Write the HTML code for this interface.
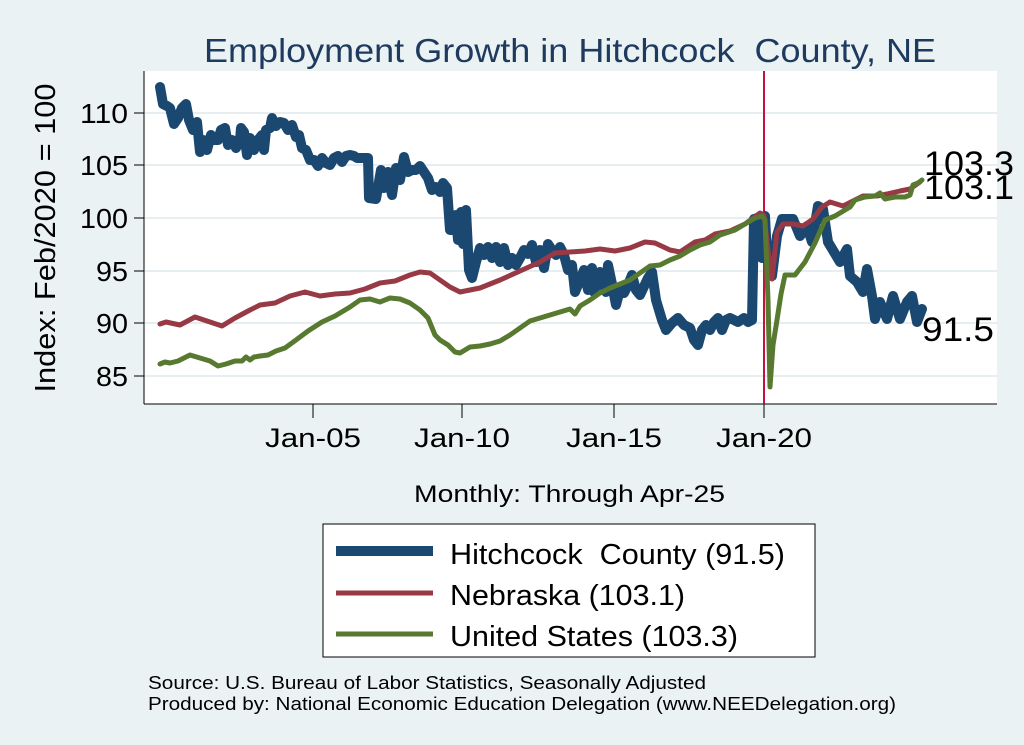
<!DOCTYPE html>
<html><head><meta charset="utf-8"><style>
body{margin:0;background:#eaf2f3;}
svg{display:block;font-family:"Liberation Sans",sans-serif;}
</style></head><body>
<svg width="1024" height="745" viewBox="0 0 1024 745">
<rect width="1024" height="745" fill="#eaf2f3"/>
<rect x="144" y="71" width="853" height="333" fill="#fff"/>
<g stroke="#e6eef1" stroke-width="2">
<line x1="144" x2="997" y1="113" y2="113"/><line x1="144" x2="997" y1="165" y2="165"/>
<line x1="144" x2="997" y1="218" y2="218"/><line x1="144" x2="997" y1="271" y2="271"/>
<line x1="144" x2="997" y1="323" y2="323"/><line x1="144" x2="997" y1="376" y2="376"/>
</g>
<g stroke="#000" stroke-width="1">
<line x1="144" y1="71" x2="144" y2="404"/><line x1="144" y1="404" x2="997" y2="404"/>
<line x1="134" x2="144" y1="113" y2="113"/><line x1="134" x2="144" y1="165" y2="165"/>
<line x1="134" x2="144" y1="218" y2="218"/><line x1="134" x2="144" y1="271" y2="271"/>
<line x1="134" x2="144" y1="323" y2="323"/><line x1="134" x2="144" y1="376" y2="376"/>
<line x1="313" x2="313" y1="404" y2="418"/><line x1="462" x2="462" y1="404" y2="418"/>
<line x1="614" x2="614" y1="404" y2="418"/><line x1="764" x2="764" y1="404" y2="418"/>
</g>
<g font-size="28" text-anchor="end" fill="#000">
<text x="128" y="123" textLength="48" lengthAdjust="spacingAndGlyphs">110</text>
<text x="128" y="175" textLength="48" lengthAdjust="spacingAndGlyphs">105</text>
<text x="128" y="228" textLength="48" lengthAdjust="spacingAndGlyphs">100</text>
<text x="128" y="281" textLength="32" lengthAdjust="spacingAndGlyphs">95</text>
<text x="128" y="333" textLength="32" lengthAdjust="spacingAndGlyphs">90</text>
<text x="128" y="386" textLength="32" lengthAdjust="spacingAndGlyphs">85</text>
</g>
<g font-size="27" text-anchor="middle">
<text x="313" y="447" textLength="96" lengthAdjust="spacingAndGlyphs">Jan-05</text>
<text x="462" y="447" textLength="96" lengthAdjust="spacingAndGlyphs">Jan-10</text>
<text x="614" y="447" textLength="96" lengthAdjust="spacingAndGlyphs">Jan-15</text>
<text x="764" y="447" textLength="96" lengthAdjust="spacingAndGlyphs">Jan-20</text>
</g>
<text x="204" y="62" font-size="33" fill="#1e3a5f" textLength="732" lengthAdjust="spacingAndGlyphs">Employment Growth in Hitchcock&#160; County, NE</text>
<text transform="translate(55,238) rotate(-90)" font-size="29" text-anchor="middle" textLength="309" lengthAdjust="spacingAndGlyphs">Index: Feb/2020 = 100</text>
<text x="414" y="502" font-size="24" textLength="311" lengthAdjust="spacingAndGlyphs">Monthly: Through Apr-25</text>
<line x1="764" y1="71" x2="764" y2="404" stroke="#c8103e" stroke-width="2"/>
<g fill="none" stroke-linejoin="round" stroke-linecap="round">
<polyline stroke="#1b4870" stroke-width="10" points="160,87 163,104 167,106 170,108 174,124 178,118 182,108 186,104 189,120 193,130 197,122 200,152 203,140 207,150 211,135 214,140 218,140 221,130 225,128 228,145 232,140 236,148 240,140 241,128 244,132 247,155 250,138 254,150 258,140 262,135 264,150 266,130 270,128 272,118 276,126 280,122 284,123 288,130 292,125 296,137 299,135 302,148 306,150 310,160 314,160 318,166 322,158 326,163 330,165 334,158 338,156 342,162 346,156 350,155 354,156 357,158 368,158 369,198 376,199 381,170 384,188 388,172 392,195 396,168 400,180 404,157 408,172 412,170 416,170 420,166 424,172 428,178 432,190 436,187 440,192 443,183 447,188 450,230 454,230 456,215 458,240 461,212 463,244 466,210 469,270 472,278 476,262 480,248 484,255 488,247 492,258 496,247 500,262 504,248 508,265 512,258 516,265 520,258 524,250 528,254 532,245 536,262 540,250 544,268 548,244 552,250 556,255 560,247 564,255 568,270 572,265 575,292 580,280 584,270 588,290 592,268 594,292 600,272 604,285 606,292 608,265 612,284 616,305 620,290 624,293 628,285 632,275 636,290 640,295 648,278 652,272 656,300 662,320 666,330 672,323 678,318 684,325 690,328 694,340 698,345 702,330 706,325 710,330 714,322 718,318 722,330 726,320 730,318 734,320 738,322 744,318 748,322 752,320 754,219 758,218 762,258 765,216 767,256 772,276 777,236 782,219 793,219 800,236 807,226 812,242 818,206 823,209 828,242 840,262 847,249 850,276 857,282 863,292 867,269 872,296 875,319 880,302 887,319 893,296 900,319 907,302 912,296 917,322 922,309"/>
<polyline stroke="#973a45" stroke-width="5" points="160,324 166,322 180,325 195,317 210,322 222,326 235,318 250,310 260,305 275,303 290,296 305,292 320,296 335,294 350,293 365,289 380,283 395,281 410,275 420,272 430,273 440,280 450,287 460,292 480,288 500,280 520,271 540,262 555,253 570,252 585,251 600,249 615,251 630,248 645,242 655,243 670,250 680,252 695,242 705,240 715,234 730,231 745,224 760,213 764,215 768,250 772,279 777,232 783,224 793,224 803,226 813,219 822,207 830,202 843,206 853,201 863,196 877,196 887,194 900,191 910,189 920,182"/>
<polyline stroke="#587a30" stroke-width="5" points="160,364 165,362 170,363 178,361 190,355 200,358 210,361 218,366 226,364 235,361 242,361 246,357 250,360 254,357 260,356 268,355 276,351 285,348 296,340 308,331 322,322 335,316 350,307 360,300 370,299 380,302 390,298 400,299 410,303 420,310 428,318 435,335 440,340 448,345 455,352 460,353 470,347 480,346 490,344 500,341 510,335 520,328 530,321 540,318 550,315 560,312 570,309 575,314 580,306 590,300 600,293 610,288 620,284 630,280 640,273 650,266 660,265 670,260 680,256 690,250 700,245 710,242 720,235 735,230 745,224 755,218 762,216 765,220 768,300 770,387 773,345 777,320 781,294 785,275 795,275 805,262 815,243 825,220 835,216 845,210 850,207 855,200 865,197 875,196 880,193 885,199 895,197 905,197 910,195 913,185 918,183 922,180"/>
</g>
<g font-size="34">
<text x="924" y="175" textLength="90" lengthAdjust="spacingAndGlyphs">103.3</text>
<text x="924" y="199" textLength="90" lengthAdjust="spacingAndGlyphs">103.1</text>
<text x="922" y="341" textLength="72" lengthAdjust="spacingAndGlyphs">91.5</text>
</g>
<rect x="323" y="524" width="492" height="133" fill="#fff" stroke="#000" stroke-width="1"/>
<line x1="336" x2="433" y1="551" y2="551" stroke="#1b4870" stroke-width="10"/>
<line x1="336" x2="433" y1="593" y2="593" stroke="#973a45" stroke-width="5"/>
<line x1="336" x2="433" y1="634" y2="634" stroke="#587a30" stroke-width="5"/>
<g font-size="29">
<text x="450" y="564" textLength="335" lengthAdjust="spacingAndGlyphs">Hitchcock&#160; County (91.5)</text>
<text x="450" y="605" textLength="235" lengthAdjust="spacingAndGlyphs">Nebraska (103.1)</text>
<text x="450" y="646" textLength="288" lengthAdjust="spacingAndGlyphs">United States (103.3)</text>
</g>
<g font-size="18">
<text x="148" y="689" textLength="558" lengthAdjust="spacingAndGlyphs">Source: U.S. Bureau of Labor Statistics, Seasonally Adjusted</text>
<text x="148" y="710" textLength="748" lengthAdjust="spacingAndGlyphs">Produced by: National Economic Education Delegation (www.NEEDelegation.org)</text>
</g>
</svg>
</body></html>
